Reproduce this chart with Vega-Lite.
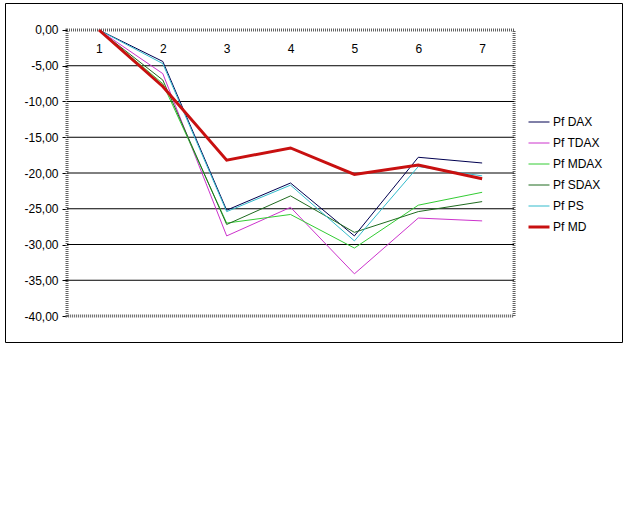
{
  "$schema": "https://vega.github.io/schema/vega-lite/v6.json",
  "width": 617,
  "height": 339,
  "autosize": "none",
  "padding": {"left": 5, "top": 3, "right": 18, "bottom": 170},
  "background": "white",
  "config": {
    "font": "Liberation Sans",
    "view": {"stroke": "#000000", "strokeWidth": 1},
    "axis": {"labelFont": "Liberation Sans", "labelFontSize": 12, "labelColor": "#000000", "zindex": 1},
    "legend": {"labelFont": "Liberation Sans", "labelFontSize": 12, "labelColor": "#000000"}
  },
  "layer": [
    {
      "data": {"values": [{"a": 1}]},
      "mark": {"type": "rect", "filled": false, "stroke": "#606060", "strokeWidth": 3, "strokeDash": [1, 1]},
      "encoding": {
        "x": {"datum": 0.5, "type": "quantitative", "scale": {"domain": [-0.471, 9.19], "nice": false, "zero": false}},
        "x2": {"datum": 7.5},
        "y": {"datum": 0, "type": "quantitative", "scale": {"domain": [-43.636, 3.776], "nice": false, "zero": false}},
        "y2": {"datum": -40}
      }
    },
    {
      "data": {"values": [{"g": -5}, {"g": -10}, {"g": -15}, {"g": -20}, {"g": -25}, {"g": -30}, {"g": -35}]},
      "mark": {"type": "rule", "color": "#000000", "strokeWidth": 1},
      "encoding": {
        "y": {"field": "g", "type": "quantitative"},
        "x": {"datum": 0.5, "type": "quantitative"},
        "x2": {"datum": 7.5}
      }
    },
    {
      "data": {"values": [
        {"x": 1, "series": "Pf DAX", "value": 0}, {"x": 2, "series": "Pf DAX", "value": -4.4}, {"x": 3, "series": "Pf DAX", "value": -25.2}, {"x": 4, "series": "Pf DAX", "value": -21.4}, {"x": 5, "series": "Pf DAX", "value": -28.8}, {"x": 6, "series": "Pf DAX", "value": -17.8}, {"x": 7, "series": "Pf DAX", "value": -18.6},
        {"x": 1, "series": "Pf TDAX", "value": 0}, {"x": 2, "series": "Pf TDAX", "value": -6.1}, {"x": 3, "series": "Pf TDAX", "value": -28.8}, {"x": 4, "series": "Pf TDAX", "value": -24.8}, {"x": 5, "series": "Pf TDAX", "value": -34.1}, {"x": 6, "series": "Pf TDAX", "value": -26.3}, {"x": 7, "series": "Pf TDAX", "value": -26.7},
        {"x": 1, "series": "Pf MDAX", "value": 0}, {"x": 2, "series": "Pf MDAX", "value": -7.5}, {"x": 3, "series": "Pf MDAX", "value": -27.0}, {"x": 4, "series": "Pf MDAX", "value": -25.8}, {"x": 5, "series": "Pf MDAX", "value": -30.5}, {"x": 6, "series": "Pf MDAX", "value": -24.5}, {"x": 7, "series": "Pf MDAX", "value": -22.7},
        {"x": 1, "series": "Pf SDAX", "value": 0}, {"x": 2, "series": "Pf SDAX", "value": -7.0}, {"x": 3, "series": "Pf SDAX", "value": -27.2}, {"x": 4, "series": "Pf SDAX", "value": -23.2}, {"x": 5, "series": "Pf SDAX", "value": -28.3}, {"x": 6, "series": "Pf SDAX", "value": -25.4}, {"x": 7, "series": "Pf SDAX", "value": -24.0},
        {"x": 1, "series": "Pf PS", "value": 0}, {"x": 2, "series": "Pf PS", "value": -4.7}, {"x": 3, "series": "Pf PS", "value": -25.4}, {"x": 4, "series": "Pf PS", "value": -21.7}, {"x": 5, "series": "Pf PS", "value": -29.5}, {"x": 6, "series": "Pf PS", "value": -19.1}, {"x": 7, "series": "Pf PS", "value": -20.4},
        {"x": 1, "series": "Pf MD", "value": 0}, {"x": 2, "series": "Pf MD", "value": -7.9}, {"x": 3, "series": "Pf MD", "value": -18.2}, {"x": 4, "series": "Pf MD", "value": -16.5}, {"x": 5, "series": "Pf MD", "value": -20.2}, {"x": 6, "series": "Pf MD", "value": -18.9}, {"x": 7, "series": "Pf MD", "value": -20.8}
      ]},
      "mark": {"type": "line"},
      "encoding": {
        "x": {"field": "x", "type": "quantitative",
              "axis": {"orient": "top", "title": null, "values": [1, 2, 3, 4, 5, 6, 7], "offset": -27, "domain": false, "ticks": false, "tickSize": 0, "grid": false, "labelBaseline": "top", "labelPadding": -13, "labelOverlap": false, "labelFlush": false, "format": "d"}},
        "y": {"field": "value", "type": "quantitative",
              "axis": {"orient": "left", "title": null, "values": [0, -5, -10, -15, -20, -25, -30, -35, -40], "offset": -62, "domain": false, "grid": false, "ticks": true, "tickSize": 5, "tickColor": "#000000", "labelPadding": 4, "labelOverlap": false, "labelFlush": false,
                       "labelExpr": "datum.value == 0 ? '0,00' : '-' + replace(format(-datum.value, '.2f'), '.', ',')"}},
        "color": {"field": "series", "type": "nominal",
                  "scale": {"domain": ["Pf DAX", "Pf TDAX", "Pf MDAX", "Pf SDAX", "Pf PS", "Pf MD"],
                            "range": ["#000050", "#cc33cc", "#33cc33", "#1f6b1f", "#33bbcc", "#c81010"]},
                  "legend": {"orient": "none", "legendX": 528, "legendY": 113, "title": null, "symbolType": "stroke", "symbolSize": 440, "labelOffset": 8, "rowPadding": 9, "labelFontSize": 12,
                             "encode": {"symbols": {"update": {"strokeWidth": {"signal": "datum.value == 'Pf MD' ? 3 : 1"}}}}}},
        "strokeWidth": {"condition": {"test": "datum.series == 'Pf MD'", "value": 3}, "value": 1},
        "order": {"field": "x", "type": "quantitative"}
      }
    }
  ]
}
